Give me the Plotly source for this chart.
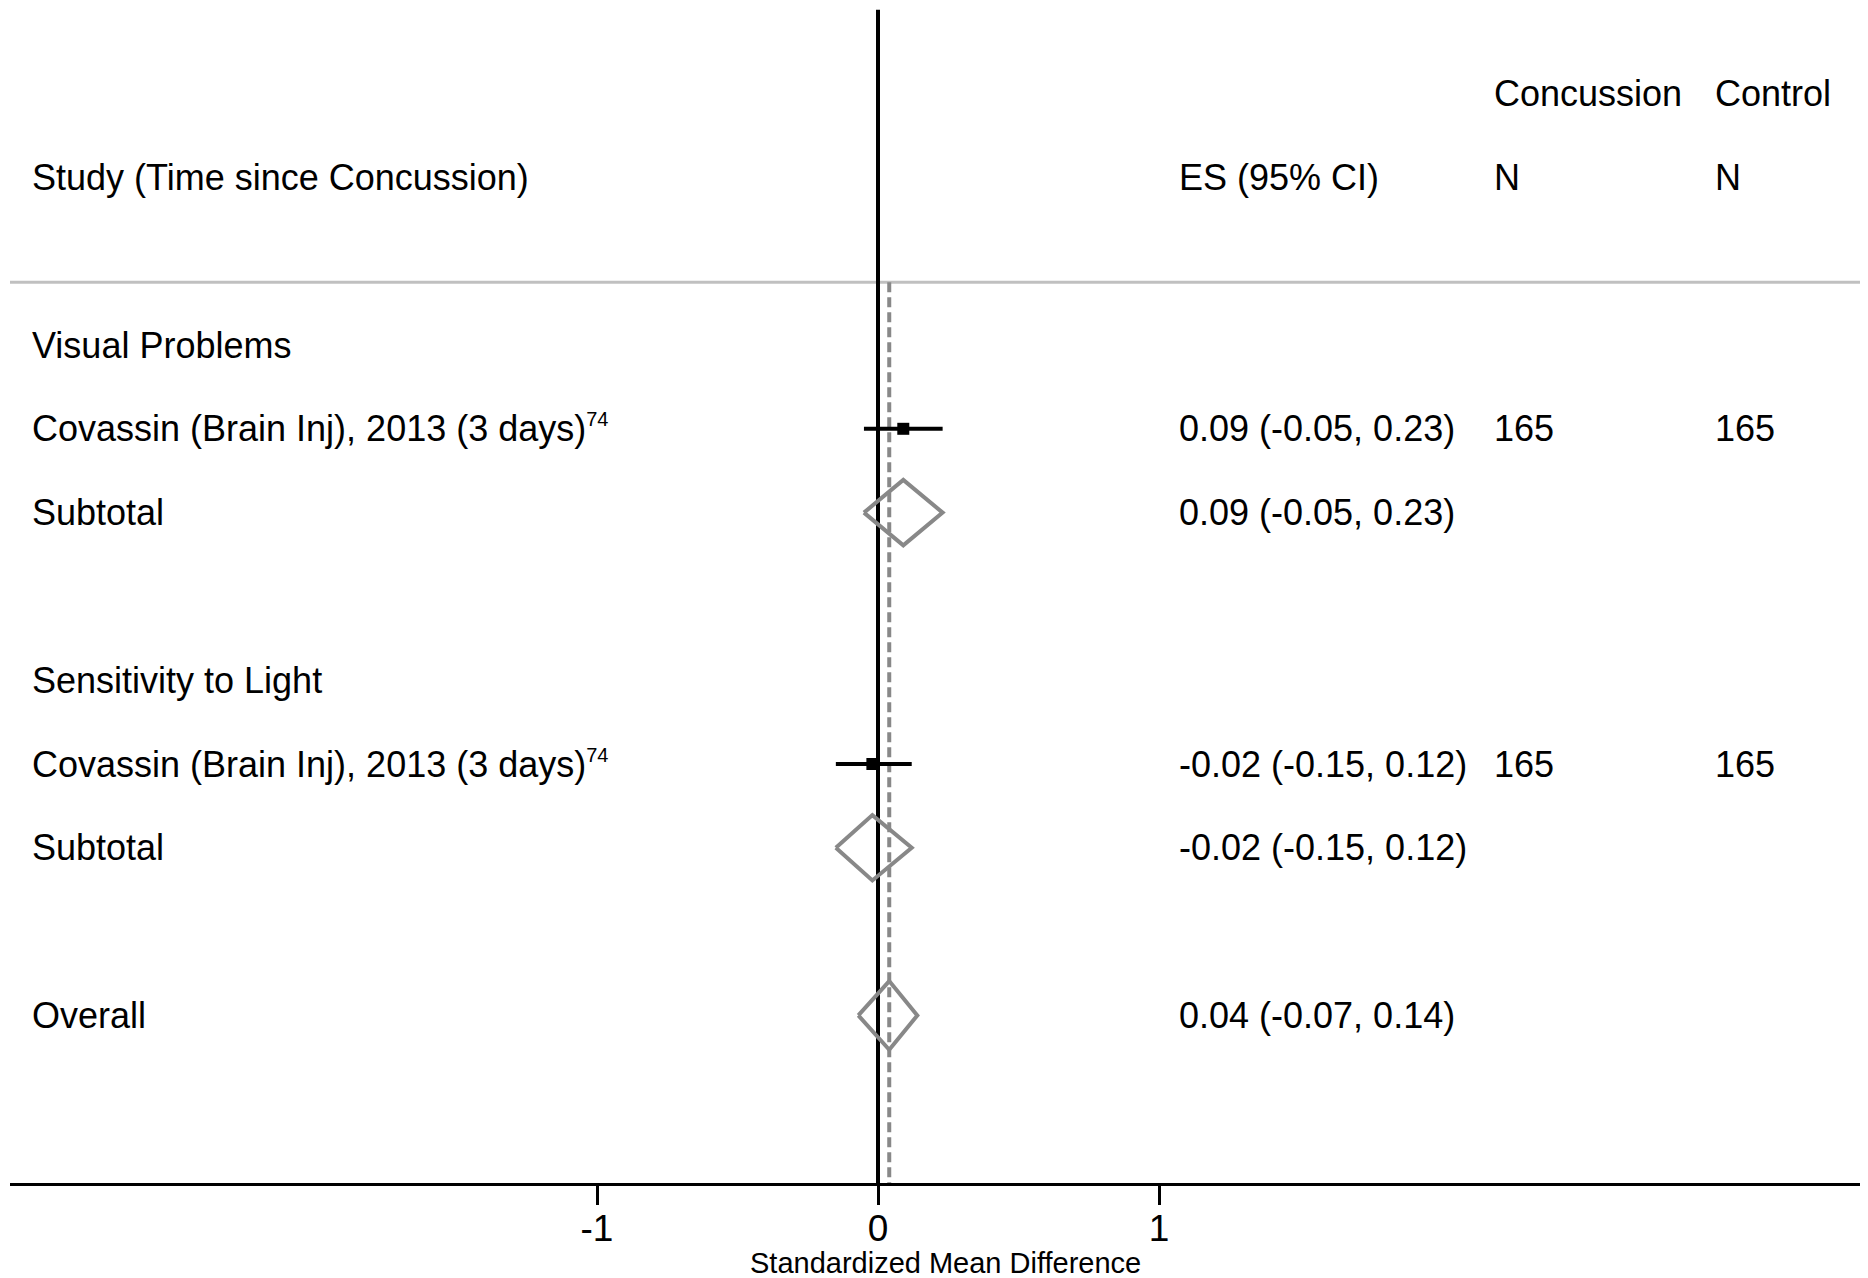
import plotly.graph_objects as go

# ---------------- data ----------------
groups = ["Visual Problems", "Sensitivity to Light"]
group_rows = [0, 4]

study_labels = ["Covassin (Brain Inj), 2013 (3 days)", "Covassin (Brain Inj), 2013 (3 days)"]
study_refs = ["74", "74"]
study_rows = [1, 5]
study_es = [0.09, -0.02]
study_lo = [-0.05, -0.15]
study_hi = [0.23, 0.12]
study_n_conc = [165, 165]
study_n_ctrl = [165, 165]

sub_rows = [2, 6]
sub_es = [0.09, -0.02]
sub_lo = [-0.05, -0.15]
sub_hi = [0.23, 0.12]

overall_row = 8
overall_es = 0.04
overall_lo = -0.07
overall_hi = 0.14

x_ticks = [-1, 0, 1]
x_ticktext = ["-1", "0", "1"]

# ---------------- layout helpers ----------------
# the html page adds an 8px body margin, so the figure is made 8px smaller
W, H = 1860, 1270
ML, MR, MT, MB = 2, 0, 0, 95
plot_w = W - ML - MR
plot_h = H - MT - MB
PAGE_OFF = 8


def px2paper(page_px):
    return (page_px - PAGE_OFF - ML) / plot_w


FONT = "Liberation Sans, Arial, Helvetica, sans-serif"
FS = 36
GRAY = "#888888"

fig = go.Figure()

# reference lines
fig.add_shape(type="line", xref="x", yref="y", x0=0, x1=0, y0=-4.0, y1=10,
              line=dict(color="black", width=4), layer="below")
fig.add_shape(type="line", xref="x", yref="y", x0=overall_es, x1=overall_es, y0=-0.75, y1=10,
              line=dict(color=GRAY, width=4, dash="10px,5px"), layer="below")
fig.add_shape(type="line", xref="paper", yref="y", x0=0, x1=1, y0=-0.75, y1=-0.75,
              line=dict(color="#c0c0c0", width=3), layer="below")

# study estimates with CIs
fig.add_trace(go.Scatter(
    x=study_es, y=study_rows, mode="markers",
    marker=dict(symbol="square", size=12, color="black"),
    error_x=dict(type="data", symmetric=False,
                 array=[h - e for h, e in zip(study_hi, study_es)],
                 arrayminus=[e - l for e, l in zip(study_es, study_lo)],
                 thickness=4, width=0, color="black"),
    showlegend=False, hoverinfo="skip"))

# diamonds
DH = 0.39


def diamond(es, lo, hi, row, dh):
    fig.add_trace(go.Scatter(
        x=[lo, es, hi, es, lo], y=[row, row - dh, row, row + dh, row],
        mode="lines", line=dict(color=GRAY, width=4),
        showlegend=False, hoverinfo="skip"))


for es, lo, hi, r in zip(sub_es, sub_lo, sub_hi, sub_rows):
    diamond(es, lo, hi, r, DH)
diamond(overall_es, overall_lo, overall_hi, overall_row, 0.41)

# ---------------- text columns ----------------
X_LABEL = px2paper(30)
X_ES = px2paper(1177)
X_N1 = px2paper(1492)
X_N2 = px2paper(1713)

ann = []


def txt(x, y, s, size=FS):
    ann.append(dict(x=x, y=y, xref="paper", yref="y", text=s, showarrow=False,
                    xanchor="left", yanchor="middle",
                    font=dict(family=FONT, size=size, color="black")))


def fmt(es, lo, hi):
    return f"{es:.2f} ({lo:.2f}, {hi:.2f})"


# headers
txt(X_N1, -3, "Concussion")
txt(X_N2, -3, "Control")
txt(X_LABEL, -2, "Study (Time since Concussion)")
txt(X_ES, -2, "ES (95% CI)")
txt(X_N1, -2, "N")
txt(X_N2, -2, "N")

for g, r in zip(groups, group_rows):
    txt(X_LABEL, r, g)

for lab, ref, r, es, lo, hi, n1, n2 in zip(study_labels, study_refs, study_rows, study_es,
                                          study_lo, study_hi, study_n_conc, study_n_ctrl):
    txt(X_LABEL, r, f"{lab}<sup><span style='font-size:20px'>{ref}</span></sup>")
    txt(X_ES, r, fmt(es, lo, hi))
    txt(X_N1, r, str(n1))
    txt(X_N2, r, str(n2))

for r, es, lo, hi in zip(sub_rows, sub_es, sub_lo, sub_hi):
    txt(X_LABEL, r, "Subtotal")
    txt(X_ES, r, fmt(es, lo, hi))

txt(X_LABEL, overall_row, "Overall")
txt(X_ES, overall_row, fmt(overall_es, overall_lo, overall_hi))

# axis title
ann.append(dict(x=px2paper(945), y=-(1263 - 1183) / plot_h, xref="paper", yref="paper",
                text="Standardized Mean Difference", showarrow=False,
                xanchor="center", yanchor="middle",
                font=dict(family=FONT, size=29, color="black")))

UNIT = 281.0
zero_fig = 878 - PAGE_OFF
x0 = -(zero_fig - ML) / UNIT
x1 = (W - MR - zero_fig) / UNIT

ROW = 83.8
row0_fig = 345 - PAGE_OFF - MT
y_top = -(row0_fig) / ROW
y_bot = (plot_h - row0_fig) / ROW

fig.update_layout(
    width=W, height=H,
    margin=dict(l=ML, r=MR, t=MT, b=MB),
    paper_bgcolor="white", plot_bgcolor="white",
    annotations=ann,
    xaxis=dict(range=[x0, x1], showgrid=False, zeroline=False,
               showline=True, linecolor="black", linewidth=3,
               ticks="outside", ticklen=19, tickwidth=3, tickcolor="black",
               tickvals=x_ticks, ticktext=x_ticktext, ticklabelstandoff=-8,
               tickfont=dict(family=FONT, size=37, color="black")),
    yaxis=dict(range=[y_bot, y_top], visible=False, showgrid=False, zeroline=False),
    showlegend=False,
)

fig.write_html("out.html")
